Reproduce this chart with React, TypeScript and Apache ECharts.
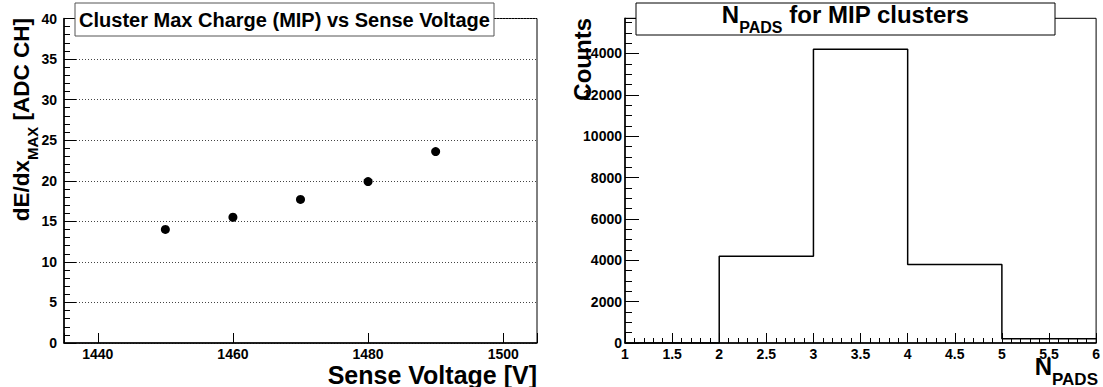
import React, { useEffect, useRef } from 'react';
import * as echarts from 'echarts';

const voltages = [1450, 1460, 1470, 1480, 1490];
const maxCharge = [14.0, 15.5, 17.7, 19.9, 23.6];
const binEdges = [1, 2, 3, 4, 5, 6];
const padCounts = [0, 4200, 14200, 3800, 200];

const FONT = '"Liberation Sans", Arial, Helvetica, sans-serif';

export default function App() {
  const ref = useRef<HTMLDivElement>(null);
  useEffect(() => {
    const chart = echarts.init(ref.current!, null, { renderer: 'svg' });
    const histData = binEdges.map((e, i) => [e, padCounts[Math.min(i, padCounts.length - 1)]]);
    const scatterData = voltages.map((v, i) => [v, maxCharge[i]]);
    const lbl = { color: '#000', fontFamily: FONT, fontWeight: 'bold', fontSize: 14 };
    const axisLine = { show: true, lineStyle: { color: '#000', width: 1.5 } };
    const bold = { fontFamily: FONT, fontWeight: 'bold', fill: '#000' };
    chart.setOption({
      animation: false,
      grid: [
        { left: 64, top: 18.5, width: 473, height: 324.5, show: true, borderColor: '#000', borderWidth: 1, backgroundColor: 'transparent' },
        { left: 625, top: 18.3, width: 473, height: 324.7, show: true, borderColor: '#000', borderWidth: 1, backgroundColor: 'transparent' },
      ],
      xAxis: [
        {
          type: 'value', gridIndex: 0, min: 1435, max: 1505, splitNumber: 4,
          axisLine,
          axisTick: { show: true, inside: true, length: 10, lineStyle: { color: '#000', width: 1 } },
          axisLabel: { ...lbl, margin: 4, formatter: (v: number) => (v % 20 === 0 ? String(v) : '') },
          splitLine: { show: false },
        },
        {
          type: 'value', gridIndex: 1, min: 1, max: 6, interval: 0.5,
          axisLine,
          axisTick: { show: true, inside: true, length: 10, lineStyle: { color: '#000', width: 1 } },
          minorTick: { show: true, splitNumber: 5, length: 5, lineStyle: { color: '#000', width: 1 } },
          axisLabel: { ...lbl, margin: 4 },
          splitLine: { show: false },
        },
      ],
      yAxis: [
        {
          type: 'value', gridIndex: 0, min: 0, max: 40, interval: 5,
          axisLine,
          axisTick: { show: true, inside: true, length: 12, lineStyle: { color: '#000', width: 1 } },
          minorTick: { show: true, splitNumber: 5, length: 6, lineStyle: { color: '#000', width: 1 } },
          axisLabel: { ...lbl, margin: 7 },
          splitLine: { show: true, lineStyle: { color: '#444', width: 1, type: [1, 2] } },
        },
        {
          type: 'value', gridIndex: 1, min: 0, max: 15700, interval: 2000,
          axisLine,
          axisTick: { show: true, inside: true, length: 14, lineStyle: { color: '#000', width: 1 } },
          minorTick: { show: true, splitNumber: 4, length: 7, lineStyle: { color: '#000', width: 1 } },
          axisLabel: { ...lbl, margin: 3, formatter: (v: number) => (v % 2000 === 0 ? String(v) : '') },
          splitLine: { show: false },
        },
      ],
      series: [
        {
          type: 'scatter', xAxisIndex: 0, yAxisIndex: 0, data: scatterData,
          symbol: 'circle', symbolSize: 9, itemStyle: { color: '#000', opacity: 1 }, z: 5,
        },
        {
          type: 'line', xAxisIndex: 1, yAxisIndex: 1, data: histData, step: 'end',
          symbol: 'none', showSymbol: false, lineStyle: { color: '#000', width: 1.5 }, z: 5,
        },
      ],
      graphic: [
        { type: 'rect', z: 100, shape: { x: 75, y: 3, width: 419, height: 33 }, style: { fill: '#fff', stroke: '#555', lineWidth: 1 } },
        { type: 'text', z: 101, x: 284.5, y: 20, style: { ...bold, text: 'Cluster Max Charge (MIP) vs Sense Voltage', fontSize: 20, align: 'center', verticalAlign: 'middle' } },
        { type: 'rect', z: 100, shape: { x: 636, y: 3, width: 419, height: 32 }, style: { fill: '#fff', stroke: '#000', lineWidth: 1 } },
        {
          type: 'text', z: 101, x: 845.5, y: 19,
          style: {
            text: '{n|N}{s|PADS}{n| for MIP clusters}', align: 'center', verticalAlign: 'middle',
            rich: {
              n: { ...bold, fontSize: 24, verticalAlign: 'bottom', padding: [0, 0, 9, 0] },
              s: { ...bold, fontSize: 16, verticalAlign: 'bottom' },
            },
          },
        },
        {
          type: 'text', z: 101, x: 25, y: 18, rotation: Math.PI / 2,
          style: {
            text: '{n|dE/dx}{s|MAX}{n| [ADC CH]}', align: 'right', verticalAlign: 'middle',
            rich: {
              n: { ...bold, fontSize: 22.5, verticalAlign: 'bottom', padding: [0, 0, 7, 0] },
              s: { ...bold, fontSize: 15, verticalAlign: 'bottom' },
            },
          },
        },
        { type: 'text', z: 101, x: 537, y: 387, style: { ...bold, text: 'Sense Voltage [V]', fontSize: 25, align: 'right', verticalAlign: 'bottom' } },
        { type: 'text', z: 101, x: 594, y: 18, rotation: Math.PI / 2, style: { ...bold, text: 'Counts', fontSize: 24, align: 'right', verticalAlign: 'bottom' } },
        {
          type: 'text', z: 101, x: 1098, y: 388,
          style: {
            text: '{n|N}{s|PADS}', align: 'right', verticalAlign: 'bottom',
            rich: {
              n: { ...bold, fontSize: 24, verticalAlign: 'bottom', padding: [0, 0, 10, 0] },
              s: { ...bold, fontSize: 17, verticalAlign: 'bottom' },
            },
          },
        },
      ],
    });
    return () => chart.dispose();
  }, []);
  return <div ref={ref} style={{ position: 'fixed', left: 0, top: 0, width: 1103, height: 387, background: '#fff' }} />;
}
